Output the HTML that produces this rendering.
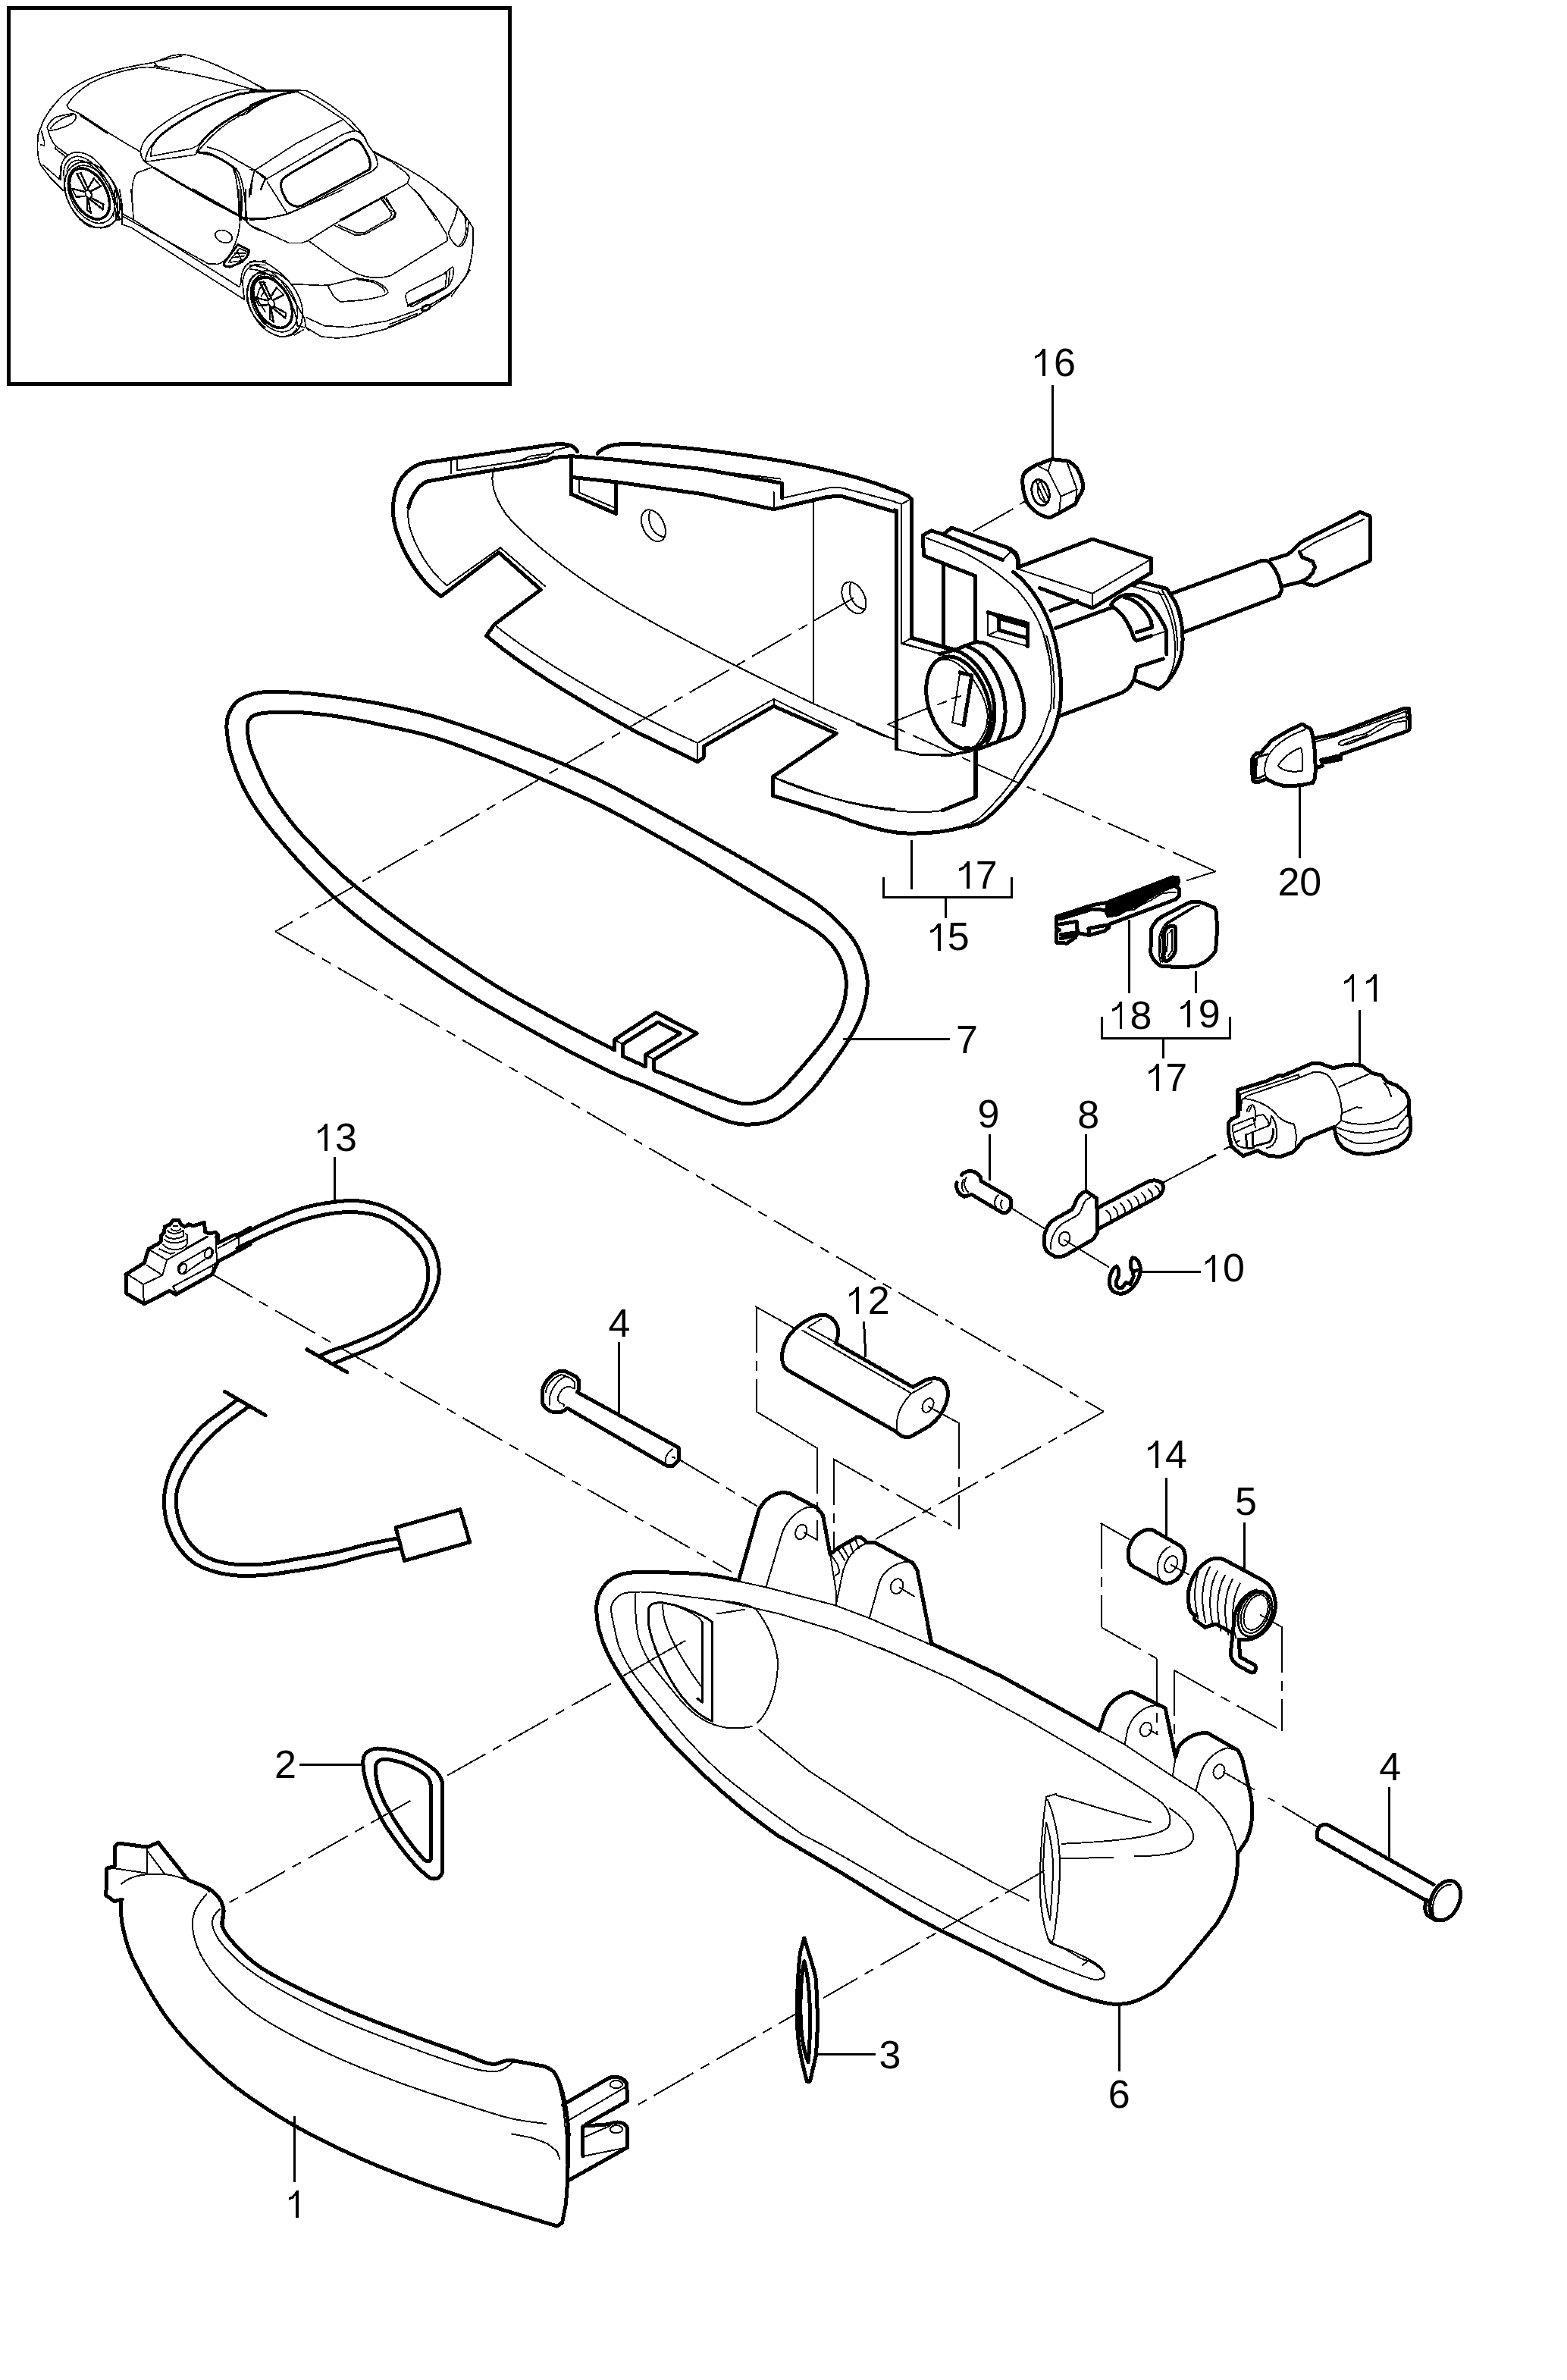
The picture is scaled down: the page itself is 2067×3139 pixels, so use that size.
<!DOCTYPE html>
<html><head><meta charset="utf-8">
<style>
html,body{margin:0;padding:0;background:#fff;}
body{width:2067px;height:3139px;overflow:hidden;font-family:"Liberation Sans",sans-serif;}
svg{position:absolute;left:0;top:0;display:block;shape-rendering:crispEdges}
.k,.m,.n,.d,.w{fill:none;stroke:#000;stroke-linecap:round;stroke-linejoin:round;vector-effect:non-scaling-stroke}
.k{stroke-width:5}
.m{stroke-width:3}
.n{stroke-width:2}
.l{fill:none;stroke:#000;stroke-width:3;vector-effect:non-scaling-stroke}
.w{stroke-width:5;fill:#fff}
.d{stroke-width:2;stroke-dasharray:60 11 13 11;stroke-linecap:butt}
.c path,.c ellipse{fill:none;stroke:#000;stroke-width:8.3;stroke-linecap:round;stroke-linejoin:round}
.c .b{stroke-width:15}
text{font-family:"Liberation Sans",sans-serif;fill:#000}
</style></head><body>
<svg width="2067" height="3139" viewBox="0 0 2067 3139">
<rect x="0" y="0" width="2067" height="3139" fill="#fff"/>
<!-- FRAME -->
<rect x="11.5" y="10.5" width="661" height="496" fill="none" stroke="#000" stroke-width="5"/>
<!-- CAR-A -->
<g class="c" transform="translate(30,50) scale(0.2042)">
<path d="M95,690 C95,640 105,600 120,570 C140,510 190,440 260,370 C330,310 420,265 520,230 C620,200 740,175 850,158 L960,115 L1030,105 C1100,115 1180,145 1260,180 L1400,245 L1567,330"/>
<path d="M285,435 C310,395 360,340 440,290 C520,250 620,215 740,195 C790,185 830,188 870,195 L1100,235 L1300,280 L1460,325 L1567,345"/>
<path d="M850,158 L870,185 M850,180 L945,195 M870,150 L1030,115"/>
<path d="M285,435 L300,460 L370,490 L550,610 L680,690 L760,735"/>
<path class="b" d="M375,500 L545,612"/>
<path d="M160,590 C150,570 190,520 225,508 L320,488 C345,490 350,510 335,535 C310,565 240,590 175,600 Z"/>
<path d="M180,585 C200,550 260,510 325,495"/>
<path d="M120,570 L100,620 L95,690 C95,740 100,790 115,820 L180,905 L260,985"/>
<path d="M120,600 L140,670 L140,695 L115,690"/>
<path d="M165,600 C175,640 195,680 215,700 L290,755 M215,700 L210,715 L280,770"/>
<path d="M130,820 L240,915 L245,830"/>
<path d="M245,915 L250,830 C255,790 280,755 330,740 C380,735 430,750 470,790 C520,840 570,900 600,970 C625,1030 640,1100 645,1175"/>
<path d="M270,985 L265,860 C270,810 300,770 350,765 C420,765 480,830 530,900 C580,980 610,1080 625,1175"/>
<path d="M285,860 C290,820 320,790 360,790 C440,790 520,890 570,1000 C595,1070 605,1130 600,1175"/>
<path d="M760,735 C765,690 790,650 830,615 C900,555 1000,490 1100,440 C1200,390 1300,355 1400,335 L1480,335 L1567,345"/>
<path d="M760,735 C765,770 775,790 790,800 L840,835"/>
<path class="b" d="M835,700 C860,650 920,600 1000,550 C1100,485 1250,405 1400,362 L1567,338"/>
<path d="M825,765 L835,700 M825,765 L1090,715 L1140,690 M790,800 L1115,755 L1140,700 M790,800 C795,760 810,720 835,690"/>
<path class="b" d="M1140,690 C1180,640 1230,590 1300,545 C1400,480 1480,440 1567,395"/>
<path d="M1115,755 C1180,670 1250,600 1330,545 L1567,405"/>
<path d="M1390,500 C1400,480 1440,460 1470,462 C1470,480 1430,505 1390,500 Z"/>
<path d="M840,835 L740,870 C720,890 712,920 708,960 L705,1010 L715,1175"/>
<path class="b" d="M850,840 L1000,930 L1200,1045 L1400,1150 L1440,1175"/>
<path class="b" d="M1130,738 L1200,745 C1260,770 1330,810 1380,850"/>
<path d="M1380,850 C1410,880 1425,950 1435,1050 L1450,1175"/>
<path d="M1195,705 L1290,735 L1400,800 L1500,855 L1567,900 M1500,855 C1480,900 1470,960 1465,1025 M1567,905 L1540,980"/>
<path d="M1140,745 C1220,750 1300,785 1355,835 C1395,875 1410,960 1418,1060 L1410,1175 M1360,850 C1385,900 1395,1000 1398,1175"/>
</g>
<!-- WHEELS -->
<defs><g id="wh" fill="none" stroke="#000" stroke-linecap="round">
<ellipse rx="268" ry="440" stroke-width="44" transform="rotate(-30)"/>
<ellipse cx="45" cy="20" rx="390" ry="560" stroke-width="22" transform="rotate(-30 45 20)"/>
<ellipse cx="28" cy="10" rx="325" ry="495" stroke-width="20" transform="rotate(-30 28 10)"/>
<path stroke-width="30" d="M-60,-50 L-200,-320 M-20,-70 L-140,-330 M-10,-110 L70,-240 M20,-40 L180,-120 M20,60 L220,170 M10,90 L210,250 M-20,90 L20,310 M-40,80 L-40,260 M-70,-30 L-280,-80 M-80,40 L-210,50"/>
<path stroke-width="20" d="M-200,-320 L-140,-330 M70,-240 L180,-120 M220,170 L210,250 M20,310 L-40,260 M-280,-80 L-210,50"/>
<ellipse cx="-15" cy="10" rx="45" ry="70" stroke-width="24" transform="rotate(-30 -15 10)"/>
</g></defs>
<use href="#wh" transform="translate(118.1,255.5) scale(0.08296)"/>
<use href="#wh" transform="translate(359.1,398.9) scale(0.08296)"/>
<!-- CAR-B -->
<g class="c" transform="translate(330,50) scale(0.2042)">
<path d="M0,280 L95,335 L190,338 L360,340 L400,360 L520,435 L640,525 L700,590 L740,640 L760,690 L795,735"/>
<path class="b" d="M0,345 L300,340 M0,437 C100,390 200,360 305,345"/>
<path d="M0,470 C100,400 200,360 305,347"/>
<path d="M300,345 L430,412 L600,525 L680,600"/>
<path d="M595,530 L300,680 L30,855 M680,600 C640,605 600,620 560,645 L100,915"/>
<path class="b" d="M660,655 C700,655 720,680 740,720 C770,770 785,810 770,850 L330,1085 C290,1095 250,1080 230,1040 C200,990 190,950 205,920 C220,900 240,890 260,875 L600,680 C620,665 640,655 660,655 Z"/>
<path d="M680,600 C720,610 740,640 760,690 C800,740 830,780 820,830 L790,860 L350,1090 L240,1135"/>
<path d="M30,855 L100,915 M110,930 L240,1135 M100,915 C80,940 70,960 68,980 M30,855 C15,880 10,950 5,1010 M0,850 L30,855"/>
<path d="M795,735 L900,790 L1005,870 L1030,900 L1015,940 L860,1025 L580,1175 M240,1135 L100,1170 L0,1175"/>
<path class="b" d="M795,735 L900,790"/>
<path d="M795,735 C900,780 1050,860 1150,930 C1250,1000 1310,1060 1340,1090 L1400,1175"/>
<path d="M1015,940 L1100,1020 L1200,1175 M1340,1090 L1320,1175"/>
<path d="M840,1035 L900,1110 L940,1130 L935,1160 L915,1175 M860,1025 L940,1130 M600,1175 L840,1040"/>
</g>
<!-- CAR-C -->
<g class="c" transform="translate(30,250) scale(0.2042)">
<path d="M270,0 C290,90 340,190 430,238 C500,255 560,240 600,200 L640,190 M590,0 C600,60 600,120 585,170 M600,0 C615,60 615,140 600,195 M625,0 L640,90 L645,155"/>
<path d="M640,155 L640,225 L700,245 L1430,710 M640,155 L700,185 L1400,630 L1410,600 M650,175 L1200,480 M700,0 L715,180"/>
<path d="M1395,0 L1405,180 C1405,260 1380,340 1350,400 C1320,450 1290,475 1260,482 L1200,480"/>
<path class="b" d="M1100,0 L1400,170"/>
<path d="M1400,170 L1440,185 L1567,192 M1440,0 L1440,200 C1470,240 1520,265 1567,275 M1410,0 L1412,175 M1465,0 L1462,50"/>
<ellipse cx="1298" cy="303" rx="57" ry="38" transform="rotate(20 1298 303)"/>
<path class="b" d="M1300,475 L1390,355 L1460,390 C1465,420 1440,450 1400,475 L1340,500 C1310,500 1295,490 1300,475 Z"/>
<path d="M1330,470 L1400,380 L1445,400 M1350,440 L1430,430 M1370,410 L1445,410 M1340,470 L1410,460 M1385,395 L1420,470"/>
<path d="M1410,600 C1410,540 1430,490 1470,470 L1567,460 M1430,700 L1420,600 C1425,540 1450,500 1500,485 L1567,488 M1450,720 C1440,640 1460,560 1520,540 L1567,538 M1450,720 C1470,790 1510,850 1567,890"/>
<path class="b" d="M1567,570 C1520,570 1480,600 1490,680 C1500,760 1530,830 1567,860"/>
<path d="M1567,600 L1530,640 L1510,700 L1567,790 M1567,650 L1540,690"/>
</g>
<!-- CAR-D -->
<g class="c" transform="translate(330,250) scale(0.2042)">
<path d="M0,465 C50,455 110,470 160,510 C200,540 230,570 250,590 M0,490 C80,490 150,530 200,590 C260,670 310,760 350,830 M0,515 C70,515 140,550 190,610 C260,700 300,800 305,880 L350,890"/>
<path d="M285,940 L345,905 M190,950 C240,950 280,940 300,900"/>
<path d="M0,230 L250,345 L330,345 L375,330 M0,185 C80,190 160,180 240,160 L600,0"/>
<path d="M375,330 L560,465 C620,510 680,545 740,560 C800,575 860,570 910,555 L1275,330 L1270,290 L1200,175 L1060,0 M375,330 L540,225 L860,50 L940,0"/>
<path d="M540,230 L680,295 L740,290 L900,200 C930,180 940,160 930,140 L880,55 M570,230 L690,280 L740,278 L900,185 L915,160 L850,50"/>
<path d="M1340,110 C1335,160 1310,220 1280,280 C1290,320 1320,360 1350,370 C1380,365 1400,320 1405,270 L1410,215 M1390,180 L1395,260 C1390,310 1370,350 1350,360"/>
<path d="M1210,0 C1280,40 1380,140 1440,250 L1440,350 C1435,430 1420,500 1395,560 C1370,600 1330,640 1290,670 L1180,735 L1050,790 L880,850 L640,890 L480,880 L360,825"/>
<path d="M360,890 L460,950 L560,960 L700,945 L880,900 L1080,815 L1290,680 M350,830 L360,890 L380,910 M1300,690 L1420,520"/>
<path d="M500,620 L690,572 L800,590 C850,610 890,640 890,665 C880,685 820,700 720,715 L580,725 L540,690 Z M690,580 L800,600 C840,620 870,645 870,660"/>
<path d="M265,610 L470,620 L500,615"/>
<path class="b" d="M1020,750 L1250,640"/>
<path d="M1005,700 C1000,680 1010,665 1030,655 L1250,545 L1305,500 L1315,510 L1310,560 C1300,600 1280,630 1250,645 L1050,755 L1020,750 Z M1250,545 L1270,540 L1260,630 M1290,520 L1280,610"/>
<ellipse class="b" cx="1135" cy="765" rx="30" ry="15" transform="rotate(-25 1135 765)"/>
<path d="M890,890 L1075,815 L1080,800 L900,870 M1180,735 L1300,670"/>
</g>
<!-- T1 housing left (origin 480,540 z 2.2386) -->
<g transform="translate(480,540) scale(0.44671)" stroke-linecap="round" stroke-linejoin="round" fill="none" stroke="#000">
<g stroke-width="11.2">
<path d="M630,125 C625,108 605,100 565,103 L440,120 L300,140 L180,157 C140,165 110,195 95,235 C80,285 85,330 100,370 C120,430 160,490 200,530 L228,552 L398,422 L522,532 L385,635 L362,668 C450,745 600,840 800,950 L985,1040 L1003,1028 L1003,995 L1210,876 L1395,957 L1207,1085 L1207,1140 L1400,1200"/>
<path d="M612,138 L560,142 L540,152 L470,166 L380,180 L280,196 L185,213 C160,225 140,255 132,290"/>
<path d="M690,130 C710,105 750,100 800,102 C950,110 1100,130 1250,155 C1400,183 1500,210 1567,240"/>
<path d="M612,250 L612,138 L740,148 L1000,176 L1235,218 L1235,262"/>
<path d="M612,200 L750,215 L1000,250 L1210,295 L1370,258 L1410,256 L1567,302"/>
<path d="M612,250 L745,308 L745,215"/>
</g>
<g stroke-width="4.5">
<path d="M132,290 C125,330 140,370 160,410 C185,460 215,495 245,520 L403,408 L535,522"/>
<path d="M258,150 L258,188 M275,148 L275,180 L460,152 L540,138 L565,120 L615,108 M460,152 L490,138 L560,128"/>
<path d="M385,172 C370,210 385,260 420,310 C480,380 600,480 750,570 C900,660 1100,760 1330,870 L1567,975"/>
<path d="M385,635 C500,730 750,880 985,985 L985,1040 M985,985 L1210,855 L1210,878 M1210,855 L1395,945"/>
<path d="M640,135 L1230,205 M1210,245 L1210,295 M635,210 L635,245 L740,290"/>
<path d="M1328,270 L1328,870 M1235,262 L1380,230 L1415,232 L1567,272"/>
<ellipse cx="855" cy="343" rx="31" ry="50" transform="rotate(-27 855 343)"/>
<path d="M845,300 C835,330 850,370 888,378"/>
<ellipse cx="1447" cy="556" rx="31" ry="50" transform="rotate(-27 1447 556)"/>
<path d="M1437,513 C1427,543 1442,583 1480,591"/>
<path d="M1207,1085 C1300,1130 1450,1170 1567,1180"/>
</g>
</g>
<!-- T3 origin 1090,600 z 4.477 -->
<g transform="translate(1090,600) scale(0.22336)">
<path class="k" d="M403,207 L480,240 L505,265 L505,1080 L700,1135 L760,1150"/>
<path class="n" d="M403,278 L445,290 L490,265 M445,290 L445,1115 L495,1085 M445,1115 L680,1175"/>
<path class="k" d="M403,326 L415,330 L415,1736"/>
<path class="k" d="M570,475 L575,595 L880,715 L880,1106"/>
<path class="k" d="M570,475 L620,447 L690,470 L740,430 L1085,553 L1120,580 L1135,620 L1130,670"/>
<path class="k" d="M690,470 L1040,620 M690,650 L690,1136"/>
<path class="n" d="M1040,620 L1085,575 M590,490 L800,570 C900,620 1000,680 1130,800 C1200,880 1250,960 1280,1050 L1320,1209"/>
<path class="k" d="M955,930 L1190,995 L1190,1130"/>
<path class="n" d="M1190,1130 L955,1065 L955,930 M955,1065 L1020,1035 M955,930 L1020,965"/>
<path class="k" d="M1185,1012 L1020,965 L1020,1035 L1180,1080"/>
<!-- nut -->
<path class="k" d="M1160,130 C1165,100 1200,80 1240,60 L1330,25 L1420,35 C1470,50 1500,100 1515,170 C1520,200 1510,220 1495,240 L1470,290 L1380,340 L1320,370 C1270,365 1220,330 1185,280 C1165,230 1155,170 1160,130 Z"/>
<path class="n" d="M1250,65 L1310,95 L1330,30 M1310,95 L1385,245 L1375,335 M1385,245 L1475,205 M1420,40 L1480,205 L1470,290 M1240,160 L1300,290 M1262,150 L1318,270"/>
<ellipse class="m" cx="1265" cy="222" rx="50" ry="78" transform="rotate(-15 1265 222)"/>
<ellipse class="n" cx="1282" cy="218" rx="32" ry="62" transform="rotate(-15 1282 218)"/>
<path class="n" d="M1180,270 L1145,290 M1100,320 L870,450"/>
</g>
<!-- T4 origin 1330,660 z 3.134 -->
<g transform="translate(1330,660) scale(0.31908)">
<path class="k" d="M45,275 L348,160 L592,240 L592,298 L348,445 L130,362"/>
<path class="n" d="M45,285 L348,385 L590,243 M348,385 L348,445"/>
<path class="k" d="M0,200 C30,215 45,240 40,275 M20,295 C80,340 140,420 175,520 C210,620 225,740 215,850"/>
<path class="k" d="M215.0,850.0 C212.5,860.8 206.2,893.7 200.0,915.0 C193.8,936.3 187.5,958.2 178.0,978.0 C168.5,997.8 156.8,1013.3 143.0,1034.0 C129.2,1054.7 111.0,1079.3 95.0,1102.0 C79.0,1124.7 62.3,1150.0 47.0,1170.0 C31.7,1190.0 17.7,1205.3 3.0,1222.0 C-11.7,1238.7 -26.3,1255.3 -41.0,1270.0 C-55.7,1284.7 -71.7,1299.3 -85.0,1310.0 C-98.3,1320.7 -107.7,1327.7 -121.0,1334.0 C-134.3,1340.3 -157.7,1345.7 -165.0,1348.0"/>
<path class="n" d="M144,547 C172,620 186,740 176,860 M158,560 C183,630 197,745 187,860"/>
<path class="n" d="M176.0,860.0 C174.7,863.3 174.7,861.5 168.0,880.0 C161.3,898.5 147.5,945.3 136.0,971.0 C124.5,996.7 112.5,1013.5 99.0,1034.0 C85.5,1054.5 69.0,1072.7 55.0,1094.0 C41.0,1115.3 28.3,1142.0 15.0,1162.0 C1.7,1182.0 -11.7,1198.0 -25.0,1214.0 C-38.3,1230.0 -51.7,1244.0 -65.0,1258.0 C-78.3,1272.0 -94.3,1287.7 -105.0,1298.0 C-115.7,1308.3 -121.0,1314.3 -129.0,1320.0 C-137.0,1325.7 -149.0,1330.0 -153.0,1332.0"/>
<path class="k" d="M175,455 L285,415 M195,528 L435,440 M215,890 L470,795 C500,780 520,750 525,720 L530,690 L640,655"/>
<path class="k" d="M525,745 L620,780 C660,760 700,700 715,640 C730,560 715,470 690,420 L655,365 L540,335 L520,350"/>
<path class="k" d="M425,430 C445,400 480,385 515,390 C570,400 620,460 655,540 L655,635"/>
<path class="k" d="M430,440 C470,460 500,510 520,570 L530,580 L590,560 M530,545 L595,525 L590,500 C570,450 530,410 480,400"/>
<path class="n" d="M620,375 C660,440 690,520 690,620 C690,680 670,730 640,765 M635,370 C680,440 700,530 700,620 M530,580 L655,540 M515,355 L640,390"/>
<path class="k" d="M675,385 L1045,250 C1060,245 1075,250 1085,262 C1110,290 1125,330 1130,370 L1120,395 L725,545"/>
<path class="k" d="M1085,245 L1150,225 C1175,215 1185,190 1215,170 L1455,48 L1495,65 L1495,250 L1275,350 C1250,355 1230,345 1215,335 L1135,355"/>
<path class="n" d="M1205,213 L1265,175 L1470,78"/>
<path class="k" d="M1205,213 L1215,235 L1258,252 L1268,275 L1258,300 L1240,320 L1210,337"/>
</g>
<!-- T5 origin 1130,780 z 4.477 -->
<g transform="translate(1130,780) scale(0.22336)">
<path class="n" d="M235,930 L380,968 L560,970 L680,945 M0,785 L150,850 L230,875 M270,305 L560,390"/>
<path class="k" d="M325,275 L580,350 M700,945 L700,1209"/>
<ellipse class="w" cx="600" cy="658" rx="175" ry="282" transform="rotate(-19 600 658)"/>
<path class="n" d="M480,410 C520,395 560,400 600,430 C680,490 750,600 770,700 C780,770 770,830 700,915"/>
<path class="k" d="M580,345 C680,380 760,480 800,600 C830,720 810,830 770,890 M640,320 C740,350 820,450 860,580 C890,700 880,800 840,870"/>
<path class="k" d="M490,370 L580,345 L700,300 C790,290 880,380 940,500 C990,620 1010,740 960,820 C940,850 910,865 880,870 L720,930 L640,925"/>
<path class="n" d="M610,478 L565,775 L632,792"/>
<path class="k" d="M610,478 L680,497 L632,792"/>
<path class="n" d="M185,785 L430,685 M480,668 L530,650 M565,632 L615,618"/>
</g>
<!-- T7 origin 780,860 z 2.849 -->
<g transform="translate(780,860) scale(0.35100)">
<path class="k" d="M927,616 C1000,645 1080,670 1160,680 C1260,685 1350,675 1420,650"/>
<path class="k" d="M1445,370 L1445,545 L1320,595"/>
<path class="n" d="M1320,595 C1200,615 1000,585 850,530 L690,472"/>
<path class="n" d="M1145,365 L1240,385 L1350,385 L1420,370"/>
</g>
<!-- T6 origin 1130,900 z 2.2386 -->
<g transform="translate(1130,900) scale(0.44671)">
<path class="l" d="M163,465 L163,612 M80,575 L80,635 L457,635 L457,575 M262,635 L262,697"/>
<path class="l" d="M725,988 L725,1050 L1103,1050 L1103,988 M905,1050 L905,1110"/>
<path class="l" d="M805,700 L805,918 M1002,853 L1002,918 M1308,310 L1308,520 M-40,1053 L275,1053 M1485,968 L1485,1130"/>
</g>
<!-- T8 gasket origin 280,880 z 1.7411 -->
<g transform="translate(280,880) scale(0.57435)">
<path class="k" d="M33.0,133.0 C33.5,124.2 34.7,115.3 38.0,107.0 C41.3,98.7 46.5,89.7 53.0,83.0 C59.5,76.3 67.5,71.2 77.0,67.0 C86.5,62.8 96.7,59.7 110.0,58.0 C123.3,56.3 139.2,56.7 157.0,57.0 C174.8,57.3 193.2,57.8 217.0,60.0 C240.8,62.2 269.5,65.5 300.0,70.0 C330.5,74.5 363.0,79.2 400.0,87.0 C437.0,94.8 472.0,101.5 522.0,117.0 C572.0,132.5 637.0,155.3 700.0,180.0 C763.0,204.7 819.7,225.2 900.0,265.0 C980.3,304.8 1112.8,380.3 1182.0,419.0 C1251.2,457.7 1281.7,477.0 1315.0,497.0 C1348.3,517.0 1362.7,525.3 1382.0,539.0 C1401.3,552.7 1416.2,564.8 1431.0,579.0 C1445.8,593.2 1460.7,609.2 1471.0,624.0 C1481.3,638.8 1487.5,653.2 1493.0,668.0 C1498.5,682.8 1502.5,698.2 1504.0,713.0 C1505.5,727.8 1504.7,741.5 1502.0,757.0 C1499.3,772.5 1494.7,789.7 1488.0,806.0 C1481.3,822.3 1472.3,838.0 1462.0,855.0 C1451.7,872.0 1439.3,889.5 1426.0,908.0 C1412.7,926.5 1396.8,949.0 1382.0,966.0 C1367.2,983.0 1351.8,997.8 1337.0,1010.0 C1322.2,1022.2 1310.0,1032.3 1293.0,1039.0 C1276.0,1045.7 1253.5,1049.5 1235.0,1050.0 C1216.5,1050.5 1205.7,1049.3 1182.0,1042.0 C1158.3,1034.7 1126.3,1020.2 1093.0,1006.0 C1059.7,991.8 1009.0,968.5 982.0,957.0 C955.0,945.5 958.0,949.5 931.0,937.0 C904.0,924.5 857.0,901.3 820.0,882.0 C783.0,862.7 746.0,841.8 709.0,821.0 C672.0,800.2 635.0,779.7 598.0,757.0 C561.0,734.3 524.0,710.0 487.0,685.0 C450.0,660.0 410.3,633.0 376.0,607.0 C341.7,581.0 308.8,554.0 281.0,529.0 C253.2,504.0 230.8,480.2 209.0,457.0 C187.2,433.8 166.0,409.0 150.0,390.0 C134.0,371.0 124.2,358.5 113.0,343.0 C101.8,327.5 91.3,311.3 83.0,297.0 C74.7,282.7 68.5,269.3 63.0,257.0 C57.5,244.7 53.8,234.2 50.0,223.0 C46.2,211.8 42.5,200.5 40.0,190.0 C37.5,179.5 36.2,169.5 35.0,160.0 C33.8,150.5 32.5,141.8 33.0,133.0 Z"/>
<path class="k" d="M924.0,879.0 C911.3,872.5 874.5,853.8 848.0,840.0 C821.5,826.2 795.5,812.7 765.0,796.0 C734.5,779.3 697.5,759.5 665.0,740.0 C632.5,720.5 599.7,698.5 570.0,679.0 C540.3,659.5 514.8,642.5 487.0,623.0 C459.2,603.5 430.8,583.2 403.0,562.0 C375.2,540.8 340.0,512.5 320.0,496.0 C300.0,479.5 297.5,476.8 283.0,463.0 C268.5,449.2 248.0,428.5 233.0,413.0 C218.0,397.5 205.2,384.3 193.0,370.0 C180.8,355.7 170.0,340.8 160.0,327.0 C150.0,313.2 140.8,300.3 133.0,287.0 C125.2,273.7 118.5,258.7 113.0,247.0 C107.5,235.3 104.2,227.0 100.0,217.0 C95.8,207.0 91.0,197.0 88.0,187.0 C85.0,177.0 83.2,166.0 82.0,157.0 C80.8,148.0 80.5,139.2 81.0,133.0 C81.5,126.8 82.3,123.8 85.0,120.0 C87.7,116.2 91.2,112.5 97.0,110.0 C102.8,107.5 109.5,106.2 120.0,105.0 C130.5,103.8 143.8,103.0 160.0,103.0 C176.2,103.0 193.7,103.0 217.0,105.0 C240.3,107.0 269.5,110.0 300.0,115.0 C330.5,120.0 363.0,126.7 400.0,135.0 C437.0,143.3 472.0,148.7 522.0,165.0 C572.0,181.3 637.0,206.8 700.0,233.0 C763.0,259.2 834.5,289.5 900.0,322.0 C965.5,354.5 1038.7,397.0 1093.0,428.0 C1147.3,459.0 1189.0,485.7 1226.0,508.0 C1263.0,530.3 1289.0,546.3 1315.0,562.0 C1341.0,577.7 1364.2,589.5 1382.0,602.0 C1399.8,614.5 1411.3,624.5 1422.0,637.0 C1432.7,649.5 1440.3,662.8 1446.0,677.0 C1451.7,691.2 1455.2,706.5 1456.0,722.0 C1456.8,737.5 1454.8,754.5 1451.0,770.0 C1447.2,785.5 1440.8,800.2 1433.0,815.0 C1425.2,829.8 1416.3,842.7 1404.0,859.0 C1391.7,875.3 1373.8,895.8 1359.0,913.0 C1344.2,930.2 1328.3,949.2 1315.0,962.0 C1301.7,974.8 1292.3,983.3 1279.0,990.0 C1265.7,996.7 1248.3,1000.7 1235.0,1002.0 C1221.7,1003.3 1215.3,1002.5 1199.0,998.0 C1182.7,993.5 1162.2,984.8 1137.0,975.0 C1111.8,965.2 1068.3,947.2 1048.0,939.0 C1027.7,930.8 1020.5,928.2 1015.0,926.0"/>
<path class="k" d="M924,879 L924,855 L1019,793 L1113,841 L1015,901 L1015,926 M942,866 L942,893 L995,917 L995,890 L1075,841 L1024,815 Z"/>
<path class="n" d="M924,855 L942,866 M995,890 L1015,901"/>
</g>
<!-- T10 part 11 origin 1590,1380 z 5.2233 -->
<g transform="translate(1590,1380) scale(0.19145)">
<path class="k" d="M220,310 L225,300 L290,280 L420,240 L510,200 L530,205 L740,115 L790,118 L880,150 L960,130 L1020,125 L1080,135 L1150,185 L1215,200 L1250,245 L1320,270 L1380,320 L1400,360 L1400,470 L1415,500 L1410,600 L1390,640 L1330,690 L1240,725 L1120,745 L1020,735 L950,700 L910,650 L895,600 L890,555 L850,570 L680,640 L640,690 L600,730 L520,760 L440,755 L380,730 L360,718 L260,755 L240,740 L180,690 L160,600 L158,530 L180,500 L220,485 Z"/>
<path class="n" d="M245,440 L250,370 L290,340 L640,220 L740,180 L790,178 L840,195 M235,480 L240,330 L280,315 L640,195 L650,215 M840,195 C900,260 930,340 940,440 L935,510 L890,555 M920,280 L1130,190 M945,460 L1040,420 L1075,422 M1230,250 L1260,290 L1280,345"/>
<path class="n" d="M935,510 C1000,540 1100,545 1200,525 C1300,500 1370,450 1395,400 M910,560 C980,590 1050,600 1100,598 L1270,570 L1320,565 L1345,525 L1395,470 M915,600 C960,640 1020,665 1050,670 L1180,665 L1320,620 L1360,600 L1395,560"/>
<path class="n" d="M265,360 C350,370 420,400 470,450 C510,500 560,530 610,535 C625,580 630,630 620,690"/>
<path class="n" d="M285,450 C290,420 310,400 330,405 C345,430 350,470 345,510 M300,450 L320,410 M190,545 L330,490 L345,560 M205,590 L340,530 M280,610 L440,545 C455,510 450,495 455,480 C480,510 500,570 490,630 C480,670 450,700 420,700 M350,480 L400,470 L430,510 L440,545 M190,545 C185,600 200,660 230,690 L270,700 M210,660 L235,650"/>
<path class="m" d="M280,610 L285,700 L330,700 L325,600 M330,690 L440,660 C465,640 470,600 465,570"/>
<path class="n" d="M15,770 L70,745 M130,710 L180,685"/>
</g>
<!-- T11 parts 8,9,10 origin 1240,1520 z 4.897 -->
<g transform="translate(1240,1520) scale(0.20421)">
<path class="k" d="M140,145 C170,110 230,110 262,160 L265,185 L445,288 C465,305 465,345 445,375 C430,390 410,392 395,385 L205,272 L155,285 C115,270 100,230 108,195"/>
<path class="n" d="M170,160 C150,190 155,230 180,255 M150,175 C140,200 140,230 150,250 M375,275 C350,300 345,335 365,360 M400,310 C390,325 390,345 400,360"/>
<path class="k" d="M690,490 C700,460 730,435 760,420 L850,370 C870,350 870,320 890,290 C905,270 925,255 945,252 L1010,295 L1015,385 L1015,520 L990,560 L800,670 L745,675 L690,640 C665,600 665,540 690,490 Z"/>
<path class="n" d="M715,625 C710,560 740,500 790,460 L880,410 C920,390 915,340 940,310 L975,285 M1015,385 L1020,480"/>
<ellipse class="n" cx="803" cy="557" rx="35" ry="45" transform="rotate(15 803 557)"/>
<path class="k" d="M1015,360 L1340,190 C1370,175 1410,178 1435,200 C1450,225 1440,260 1410,285 L1020,495"/>
<path class="n" d="M1075,375 c25,20 35,45 25,75 M1120,352 c25,20 35,45 25,75 M1165,329 c25,20 35,45 25,75 M1210,306 c25,20 35,45 25,75 M1255,283 c25,20 35,45 25,75 M1300,260 c25,20 35,45 25,75 M1345,237 c25,20 35,45 25,75 M1390,214 c25,20 35,45 25,75"/>
<path class="n" d="M455,355 L680,495 M803,565 L1090,740 M1440,195 L1567,128 L1780,17"/>
<path class="k" d="M1245,680 C1275,680 1295,720 1295,760 C1290,820 1250,880 1200,905 C1150,925 1100,900 1095,850 C1090,800 1110,750 1140,735"/>
<path class="k" d="M1245,680 C1225,700 1225,740 1245,770 L1275,760 M1140,735 C1160,750 1160,790 1140,830 C1130,860 1150,885 1180,870 L1200,840 L1230,850 L1250,800 L1245,770"/>
</g>
<!-- T12 cable origin 120,1440 z 2.2386 -->
<g transform="translate(120,1440) scale(0.44671)">
<path class="k" d="M432.0,428.0 C446.7,420.8 488.7,398.8 520.0,385.0 C551.3,371.2 586.7,355.0 620.0,345.0 C653.3,335.0 690.0,328.7 720.0,325.0 C750.0,321.3 773.3,319.7 800.0,323.0 C826.7,326.3 855.0,333.8 880.0,345.0 C905.0,356.2 930.0,374.2 950.0,390.0 C970.0,405.8 987.5,421.7 1000.0,440.0 C1012.5,458.3 1020.8,480.0 1025.0,500.0 C1029.2,520.0 1029.2,540.0 1025.0,560.0 C1020.8,580.0 1009.5,603.2 1000.0,620.0 C990.5,636.8 980.5,648.0 968.0,661.0 C955.5,674.0 941.7,685.2 925.0,698.0 C908.3,710.8 887.0,727.0 868.0,738.0 C849.0,749.0 827.7,756.8 811.0,764.0 C794.3,771.2 783.3,774.8 768.0,781.0 C752.7,787.2 727.2,797.7 719.0,801.0"/>
<path class="k" d="M432.0,462.0 C446.7,455.0 488.7,433.7 520.0,420.0 C551.3,406.3 586.7,390.3 620.0,380.0 C653.3,369.7 690.0,361.8 720.0,358.0 C750.0,354.2 775.0,354.2 800.0,357.0 C825.0,359.8 848.3,365.3 870.0,375.0 C891.7,384.7 912.5,400.0 930.0,415.0 C947.5,430.0 964.2,447.5 975.0,465.0 C985.8,482.5 992.5,500.8 995.0,520.0 C997.5,539.2 995.8,560.0 990.0,580.0 C984.2,600.0 970.8,625.3 960.0,640.0 C949.2,654.7 939.0,658.3 925.0,668.0 C911.0,677.7 895.0,688.2 876.0,698.0 C857.0,707.8 831.5,718.3 811.0,727.0 C790.5,735.7 769.7,743.8 753.0,750.0 C736.3,756.2 723.3,759.3 711.0,764.0 C698.7,768.7 684.3,775.7 679.0,778.0"/>
<path class="k" d="M638,761 L756,828 M395,885 L515,955"/>
</g>
<!-- T13 switch origin 150,1590 z 8.7056 -->
<g transform="translate(150,1590) scale(0.11487)">
<path class="k" d="M140,790 L350,660 L400,500 L540,420 L545,340 L580,310 L585,245 L650,215 L680,170 L750,170 L770,215 L815,245 L860,215 L910,235 L1040,195 L1050,300 L1090,320 L1170,310 L1200,335 L1200,430 L1380,340 L1430,335 L1567,255"/>
<path class="k" d="M140,790 L140,1005 L350,1130 L640,980 L715,1020 L1130,790 L1200,640 L1430,520 L1567,445"/>
<path class="n" d="M175,800 L340,905 L345,1100 M340,905 L560,800 L380,685 M560,800 L610,625 L430,520 M610,625 L1080,360 M830,490 L1070,355 M1170,350 L1185,650 L1130,690 L680,930 L715,990 M1130,690 L1160,770"/>
<path class="n" d="M820,640 L1080,490 C1110,470 1150,500 1140,550 C1130,600 1090,615 1060,610 L860,745 C830,790 760,800 740,750 C725,700 770,650 820,640"/>
<ellipse class="n" cx="795" cy="725" rx="38" ry="60" transform="rotate(25 795 725)"/>
<ellipse class="n" cx="1085" cy="548" rx="38" ry="60" transform="rotate(25 1085 548)"/>
<path class="n" d="M570,450 C600,500 700,520 790,490 L840,450 L845,340 L825,325 M585,390 C620,440 760,440 830,390 M600,350 C640,390 740,390 800,350 L800,290 M620,290 C650,330 740,330 790,290 M660,270 C690,300 740,300 770,270 M690,235 L730,235 M525,500 L650,555 L700,540"/>
<path class="n" d="M1200,490 L1400,380 M1430,335 L1440,480"/>
</g>
<!-- T14 parts 4,12 origin 680,1660 z 1.95875 -->
<g transform="translate(680,1660) scale(0.51053)">
<path class="n" d="M622,395 L780,490 M822,518 L870,545"/>
</g>
<!-- T15 parts 14,5 origin 1400,1880 z 2.7982 -->
<g transform="translate(1400,1880) scale(0.35737)">
<path class="k" d="M250,500 C240,460 255,420 285,400 C300,388 320,382 335,385 L440,445 C460,460 462,500 450,535 C435,570 405,590 375,580 L265,520 C255,515 252,508 250,500 Z"/>
<path class="n" d="M400,448 C370,460 350,500 355,540 C360,570 375,582 385,582 M405,515 L470,550"/>
<ellipse class="n" cx="405" cy="512" rx="22" ry="32" transform="rotate(25 405 512)"/>
<path class="n" d="M147,362 L250,420 M735,700 L815,745"/>
<path class="k" d="M470,655 C460,600 490,530 540,500 C560,488 585,488 600,495 L740,570 C780,590 800,640 785,700 C770,750 730,785 690,790 L665,790"/>
<path class="k" d="M470,655 C470,680 480,695 495,700 L490,715 L530,745 L560,735 L575,735 L630,765"/>
<path class="k" d="M640,700 L625,840 C625,865 640,880 660,890 L700,912 C715,915 722,900 715,885 L660,855 L655,790 M640,700 C650,660 680,620 720,610"/>
<path class="n" d="M520,508 C490,560 485,640 505,712 M548,523 C518,575 513,655 533,727 M576,538 C546,590 541,670 561,742 M604,553 C574,605 569,685 589,757 M632,568 C602,620 597,700 617,772 M660,583 C630,635 625,715 645,787"/>
<ellipse class="m" cx="715" cy="695" rx="58" ry="88" transform="rotate(22 715 695)"/>
<ellipse class="n" cx="718" cy="690" rx="40" ry="68" transform="rotate(22 718 690)"/>
<ellipse class="n" cx="716" cy="692" rx="48" ry="78" transform="rotate(22 716 692)"/>
</g>
<!-- T16 part6 left origin 760,1960 z 2.6117 -->
<g transform="translate(760,1960) scale(0.38289)">
<path class="k" d="M560.0,325.0 C541.7,321.7 488.3,309.5 450.0,305.0 C411.7,300.5 371.7,299.3 330.0,298.0 C288.3,296.7 231.7,295.0 200.0,297.0 C168.3,299.0 156.7,302.8 140.0,310.0 C123.3,317.2 110.8,327.5 100.0,340.0 C89.2,352.5 80.0,370.0 75.0,385.0 C70.0,400.0 69.2,410.8 70.0,430.0 C70.8,449.2 73.3,475.0 80.0,500.0 C86.7,525.0 96.7,552.5 110.0,580.0 C123.3,607.5 140.0,634.2 160.0,665.0 C180.0,695.8 201.7,728.3 230.0,765.0 C258.3,801.7 293.3,845.0 330.0,885.0 C366.7,925.0 410.0,967.5 450.0,1005.0 C490.0,1042.5 530.0,1077.3 570.0,1110.0 C610.0,1142.7 670.0,1185.8 690.0,1201.0"/>
<path class="k" d="M560,325 L630,80 C650,45 680,25 715,22 L735,25 L830,75 L850,100 L875,235 L900,215 L960,180 C970,172 985,172 1000,195 L1030,195 L1160,265 L1175,290 L1225,545"/>
<path class="n" d="M655,345 L710,160 C730,110 770,80 800,72 L830,75 M785,160 L830,185 M875,235 L895,360 L895,410 L920,290 C935,245 960,210 1000,198 M1010,455 L1045,330 C1060,290 1100,265 1140,260 L1160,265 M1115,350 L1165,380"/>
<ellipse class="n" cx="775" cy="158" rx="19" ry="26" transform="rotate(20 775 158)"/>
<ellipse class="n" cx="1105" cy="345" rx="21" ry="26" transform="rotate(20 1105 345)"/>
<path class="n" d="M880,240 C895,260 910,280 905,300 L890,310 M900,215 L925,255 M915,205 L938,245 M940,190 L955,230 M960,180 L975,215"/>
<path class="n" d="M560,328 L660,350 L890,410 L1010,455 L1225,548"/>
<path class="n" d="M335.0,375.0 C320.8,373.3 277.5,366.2 250.0,365.0 C222.5,363.8 188.3,364.7 170.0,368.0 C151.7,371.3 148.0,378.0 140.0,385.0 C132.0,392.0 125.0,400.8 122.0,410.0 C119.0,419.2 120.7,428.3 122.0,440.0 C123.3,451.7 125.3,460.0 130.0,480.0 C134.7,500.0 138.3,531.7 150.0,560.0 C161.7,588.3 178.3,618.3 200.0,650.0 C221.7,681.7 250.0,713.3 280.0,750.0 C310.0,786.7 343.3,830.0 380.0,870.0 C416.7,910.0 456.7,951.7 500.0,990.0 C543.3,1028.3 593.3,1064.8 640.0,1100.0 C686.7,1135.2 756.7,1184.2 780.0,1201.0"/>
<path class="n" d="M205.0,372.0 C205.0,383.3 203.3,415.3 205.0,440.0 C206.7,464.7 207.5,493.3 215.0,520.0 C222.5,546.7 232.5,571.7 250.0,600.0 C267.5,628.3 298.3,663.3 320.0,690.0 C341.7,716.7 361.7,741.7 380.0,760.0 C398.3,778.3 415.0,790.0 430.0,800.0 C445.0,810.0 455.0,814.5 470.0,820.0 C485.0,825.5 503.3,830.8 520.0,833.0 C536.7,835.2 555.8,833.8 570.0,833.0 C584.2,832.2 599.2,828.8 605.0,828.0"/>
<path class="n" d="M335,375 L500,395 C560,400 600,410 620,425 C670,490 695,560 695,620 C690,700 670,770 625,815 M485,440 L580,425"/>
<path class="n" d="M335,375 L500,395 L700,440 L900,500 L1100,580 L1160,607"/>
<path class="m" d="M250,420 C255,405 275,400 300,402 L340,410 C400,430 450,450 470,470 L470,810 C440,800 400,770 360,720 C310,650 265,560 250,480 Z"/>
<path class="n" d="M298,410 L300,440 C310,500 350,580 430,690 M340,412 C390,430 425,450 435,470"/>
<path class="m" d="M435,470 L435,745 L418,732"/>
<path class="n" d="M630,840 L800,980 L1000,1110 L1140,1201"/>
</g>
<!-- T17 part6 right origin 1160,2140 z 2.6117 -->
<g transform="translate(1160,2140) scale(0.38289)">
<path class="k" d="M165,0 L178,72 L300,128 L420,185 L560,262 L680,328 L757,372 L775,315 C790,275 830,245 870,238 L985,295 L1020,465 L1030,430 C1050,400 1090,378 1130,380 L1235,440 L1250,470 L1280,600 C1290,650 1285,700 1265,750 L1235,795 L1232,860 C1225,920 1200,980 1160,1040"/>
<path class="n" d="M845,420 L855,370 C870,320 910,290 950,285 L985,295 M930,370 L958,385 M1090,580 L1105,525 C1120,475 1160,440 1200,432 L1235,440 M1185,515 L1290,575 M1340,605 L1360,615 M1390,633 L1510,705 M1010,530 L1020,465"/>
<ellipse class="n" cx="918" cy="368" rx="19" ry="25" transform="rotate(20 918 368)"/>
<ellipse class="n" cx="1170" cy="513" rx="19" ry="25" transform="rotate(20 1170 513)"/>
<path class="n" d="M0,85 L250,195 L500,330 L757,480 L900,570 L960,610 C1000,640 1010,680 995,705 C960,740 800,755 630,762"/>
<path class="n" d="M757,372 L845,420 L1010,530 L1090,580 C1140,620 1180,660 1200,700 C1220,740 1228,770 1232,800"/>
<path class="n" d="M610,595 C700,620 850,670 935,688 M1000,640 C1060,680 1090,720 1080,750 C1060,790 980,805 880,805 M805,810 L625,812"/>
<path class="n" d="M575,600 L610,590 M575,600 C560,700 550,850 555,950 C560,1020 575,1080 590,1105 M580,610 C600,660 615,720 620,790 C625,880 615,1000 600,1090 L590,1105"/>
<path class="n" d="M575,690 C590,740 600,800 598,860 C596,930 590,990 588,1025 C575,980 565,900 565,840 C565,780 570,730 575,690 Z"/>
<path class="n" d="M590,1105 L640,1125 L700,1160 L720,1165 L700,1180 M720,1165 C740,1175 760,1190 770,1201"/>
</g>
<!-- T18 part6 bottom + part3 origin 900,2380 z 1.95875 -->
<g transform="translate(900,2380) scale(0.51053)">
<path class="k" d="M243.0,78.0 C269.2,93.3 340.5,134.7 400.0,170.0 C459.5,205.3 533.3,253.3 600.0,290.0 C666.7,326.7 743.3,361.5 800.0,390.0 C856.7,418.5 901.0,443.2 940.0,461.0 C979.0,478.8 1009.0,488.5 1034.0,497.0 C1059.0,505.5 1074.3,508.8 1090.0,512.0 C1105.7,515.2 1115.5,516.3 1128.0,516.0 C1140.5,515.7 1152.5,513.8 1165.0,510.0 C1177.5,506.2 1190.5,499.5 1203.0,493.0 C1215.5,486.5 1227.5,481.5 1240.0,471.0 C1252.5,460.5 1265.5,443.8 1278.0,430.0 C1290.5,416.2 1298.2,408.0 1315.0,388.0 C1331.8,368.0 1368.3,323.0 1379.0,310.0"/>
<path class="n" d="M311.0,78.0 C325.8,85.8 351.8,98.0 400.0,125.0 C448.2,152.0 533.3,203.3 600.0,240.0 C666.7,276.7 741.7,316.7 800.0,345.0 C858.3,373.3 910.0,393.3 950.0,410.0 C990.0,426.7 1020.0,438.0 1040.0,445.0 C1060.0,452.0 1061.7,452.0 1070.0,452.0 C1078.3,452.0 1087.5,449.5 1090.0,445.0 C1092.5,440.5 1090.0,431.7 1085.0,425.0 C1080.0,418.3 1072.5,412.5 1060.0,405.0 C1047.5,397.5 1026.7,387.5 1010.0,380.0 C993.3,372.5 970.8,365.8 960.0,360.0 C949.2,354.2 947.5,347.5 945.0,345.0"/>
<path class="n" d="M580,78 L800,200 L895,248"/>
<path class="k" d="M315,345 C325,380 340,420 345,450 C350,520 350,600 345,650 L330,715 L322,715 C310,670 300,620 298,590 C295,520 298,430 305,380 Z"/>
<path class="k" d="M315,405 C325,440 330,500 330,560 C330,610 328,640 325,665 C315,640 308,600 306,560 C304,500 308,440 315,405 Z"/>
</g>
<!-- T19 part2 + part1 left origin 100,2260 z 1.95875 -->
<g transform="translate(100,2260) scale(0.51053)">
<path class="k" d="M742,130 C740,105 755,92 780,90 C830,92 880,110 920,140 C940,155 948,170 948,190 L948,400 C948,420 935,432 915,425 C880,400 840,350 800,290 C765,230 745,180 742,130 Z"/>
<path class="k" d="M775,150 C772,130 780,118 800,118 C840,122 880,140 905,160 C915,170 918,180 918,195 L918,370 C918,382 910,385 900,378 C870,345 830,290 800,235 C782,200 775,175 775,150 Z"/>
<path class="k" d="M120,480 L100,485 L78,470 L80,400 L100,395 L100,345 L110,335 L185,345 L213,333 L290,430 L340,450 C365,465 380,485 382,510 L378,550"/>
<path class="n" d="M185,345 L185,412 M185,355 L230,415 M100,400 L180,412 M118,440 C140,420 180,412 230,415 C270,420 320,440 345,460"/>
</g>
<!-- V21 part1 curves origin 100,2260 z 1.7411 -->
<g transform="translate(100,2260) scale(0.57435)">
<path class="k" d="M104.0,427.0 C104.3,435.8 102.5,459.5 106.0,480.0 C109.5,500.5 116.0,526.7 125.0,550.0 C134.0,573.3 145.8,595.0 160.0,620.0 C174.2,645.0 190.0,673.3 210.0,700.0 C230.0,726.7 253.3,753.3 280.0,780.0 C306.7,806.7 333.3,832.5 370.0,860.0 C406.7,887.5 453.3,918.3 500.0,945.0 C546.7,971.7 600.0,997.5 650.0,1020.0 C700.0,1042.5 750.0,1061.7 800.0,1080.0 C850.0,1098.3 899.2,1113.8 950.0,1130.0 C1000.8,1146.2 1079.2,1169.2 1105.0,1177.0"/>
<path class="k" d="M340.0,453.0 C339.5,459.2 332.8,477.2 337.0,490.0 C341.2,502.8 351.2,515.0 365.0,530.0 C378.8,545.0 397.5,564.2 420.0,580.0 C442.5,595.8 466.7,608.3 500.0,625.0 C533.3,641.7 576.7,661.7 620.0,680.0 C663.3,698.3 716.7,718.7 760.0,735.0 C803.3,751.3 852.8,768.0 880.0,778.0 C907.2,788.0 915.8,792.2 923.0,795.0"/>
<path class="n" d="M330.0,450.0 C327.5,453.3 317.0,461.7 315.0,470.0 C313.0,478.3 313.0,488.3 318.0,500.0 C323.0,511.7 331.3,525.0 345.0,540.0 C358.7,555.0 377.5,573.3 400.0,590.0 C422.5,606.7 446.7,621.7 480.0,640.0 C513.3,658.3 555.0,680.0 600.0,700.0 C645.0,720.0 700.0,741.3 750.0,760.0 C800.0,778.7 865.0,801.7 900.0,812.0 C935.0,822.3 945.8,821.5 960.0,822.0 C974.2,822.5 977.5,818.7 985.0,815.0 C992.5,811.3 1001.7,802.5 1005.0,800.0"/>
<path class="n" d="M300.0,415.0 C295.8,420.8 280.3,437.5 275.0,450.0 C269.7,462.5 266.3,473.3 268.0,490.0 C269.7,506.7 274.7,529.2 285.0,550.0 C295.3,570.8 310.8,593.3 330.0,615.0 C349.2,636.7 375.0,660.8 400.0,680.0 C425.0,699.2 446.7,711.7 480.0,730.0 C513.3,748.3 555.0,770.0 600.0,790.0 C645.0,810.0 700.0,831.7 750.0,850.0 C800.0,868.3 858.3,886.7 900.0,900.0 C941.7,913.3 970.0,923.0 1000.0,930.0 C1030.0,937.0 1066.7,940.0 1080.0,942.0"/>
</g>
<!-- T20 part1 origin 140,2600 z 1.95875 -->
<g transform="translate(140,2600) scale(0.51053)">
<path class="k" d="M1165,658 L1178,650 L1188,600 L1192,545 L1195,420 C1192,360 1180,300 1162,268 C1155,255 1145,250 1130,245 L1060,232 C1040,228 1030,230 1020,235 L1005,240 C990,240 975,235 960,228"/>
<path class="n" d="M1048,420 L1100,430 L1140,445 L1165,465 L1172,485 M1165,275 L1180,340 L1188,420 L1190,500 L1188,545"/>
<path class="k" d="M1180,345 L1300,275 C1315,270 1335,272 1345,290 L1347,335 L1240,395 M1232,400 L1300,395 C1320,385 1340,390 1347,405 L1347,455 L1195,540 M1232,400 L1232,478"/>
<path class="n" d="M1195,385 L1340,300 M1232,430 L1300,400 M1232,478 L1345,455"/>
<ellipse class="n" cx="1318" cy="292" rx="16" ry="10"/>
<ellipse class="n" cx="1318" cy="408" rx="16" ry="10"/>
</g>
<!-- TEXT -->
<g font-size="52">
<text x="1390.1" y="495.8">6</text>
<text x="1286.8" y="1172.1">7</text>
<text x="1249.7" y="1253.1">5</text>
<text x="1685.4" y="1180.5">20</text>
<text x="1490.5" y="1357.2">8</text>
<text x="1580.8" y="1354.5">9</text>
<text x="1537.3" y="1439.2">7</text>
<text x="1261.1" y="1388.9">7</text>
<text x="1289.4" y="1486.7">9</text>
<text x="1421.2" y="1487.9">8</text>
<text x="1613.1" y="1690.4">0</text>
<text x="441.9" y="1517.6">3</text>
<text x="802.5" y="1762.9">4</text>
<text x="1144.7" y="1733.0">2</text>
<text x="1537.0" y="1935.9">4</text>
<text x="1629.1" y="1997.7">5</text>
<text x="1159.6" y="2727.7">3</text>
<text x="1461.7" y="2780.2">6</text>
<text x="362.1" y="2345.2">2</text>
<text x="1819.2" y="2348.0">4</text>
</g>
<path fill="#000" d="M1378.7,495.9 l-3.9,0 l0,-29.6 l-3.8,4.1 l-5.6,2.5 l0,-3.75 l5.6,-2.85 l4.6,-6.4 l3.1,0 Z M1278.7,1172.2 l-3.9,0 l0,-29.6 l-3.8,4.1 l-5.6,2.5 l0,-3.75 l5.6,-2.85 l4.6,-6.4 l3.1,0 Z M1240.7,1253.5 l-3.9,0 l0,-29.6 l-3.8,4.1 l-5.6,2.5 l0,-3.75 l5.6,-2.85 l4.6,-6.4 l3.1,0 Z M1480.4,1357.3 l-3.9,0 l0,-29.6 l-3.8,4.1 l-5.6,2.5 l0,-3.75 l5.6,-2.85 l4.6,-6.4 l3.1,0 Z M1570.3,1354.7 l-3.9,0 l0,-29.6 l-3.8,4.1 l-5.6,2.5 l0,-3.75 l5.6,-2.85 l4.6,-6.4 l3.1,0 Z M1528.7,1439.3 l-3.9,0 l0,-29.6 l-3.8,4.1 l-5.6,2.5 l0,-3.75 l5.6,-2.85 l4.6,-6.4 l3.1,0 Z M1786.5,1320.8 l-3.9,0 l0,-29.6 l-3.8,4.1 l-5.6,2.5 l0,-3.75 l5.6,-2.85 l4.6,-6.4 l3.1,0 Z M1815.6,1320.8 l-3.9,0 l0,-29.6 l-3.8,4.1 l-5.6,2.5 l0,-3.75 l5.6,-2.85 l4.6,-6.4 l3.1,0 Z M1602.8,1690.5 l-3.9,0 l0,-29.6 l-3.8,4.1 l-5.6,2.5 l0,-3.75 l5.6,-2.85 l4.6,-6.4 l3.1,0 Z M432.3,1517.8 l-3.9,0 l0,-29.6 l-3.8,4.1 l-5.6,2.5 l0,-3.75 l5.6,-2.85 l4.6,-6.4 l3.1,0 Z M1133.3,1732.9 l-3.9,0 l0,-29.6 l-3.8,4.1 l-5.6,2.5 l0,-3.75 l5.6,-2.85 l4.6,-6.4 l3.1,0 Z M1527.7,1936.1 l-3.9,0 l0,-29.6 l-3.8,4.1 l-5.6,2.5 l0,-3.75 l5.6,-2.85 l4.6,-6.4 l3.1,0 Z M394.2,2925.1 l-3.9,0 l0,-29.6 l-3.8,4.1 l-5.6,2.5 l0,-3.75 l5.6,-2.85 l4.6,-6.4 l3.1,0 Z"/>
<!-- LEADERS -->
<path class="l" d="M1388.2,507.9 L1388.2,604.0 M1305.0,1495.9 L1305.0,1557.0 M1432.3,1495.9 L1432.3,1572.7 M1506.0,1677.7 L1584.2,1677.7 M441.6,1526.2 L441.6,1583.8 M816.8,1769.8 L816.8,1864.2 M1139.5,1743.2 L1142.0,1790.2 M1538.7,1949.0 L1538.7,2026.5 M1641.2,2007.6 L1641.2,2073.0 M1076.1,2709.3 L1155.3,2709.3 M1476.9,2642.9 L1476.9,2732.3 M395.1,2327.4 L478.8,2327.4 M388.6,2791.4 L388.6,2878.2 M1832.6,2356.6 L1832.6,2451.0"/>
<!-- DASHDOT -->
<path class="d" d="M1126.4,788.4 L363.3,1228.6"/>
<path class="d" d="M363.3,1228.6 L1456.0,1861.7"/>
<path class="d" d="M1456.0,1861.7 L1154.8,2030.1"/>
<path class="d" d="M897.0,1925.5 L999.3,1986.8"/>
<path class="d" d="M280.8,1681.2 L964.8,2073.0"/>
<path class="n" d="M903.6,2164.1 L821,2211"/>
<path class="d" d="M806,2220.4 L590.1,2341.7"/>
<path class="d" d="M541.6,2374.9 L299.1,2511.2"/>
<path class="d" d="M1378.0,2467.0 L1086,2635.2"/>
<path class="d" style="stroke-dashoffset:-62" d="M1050.6,2655.6 L836.9,2778.7"/>
<path class="d" d="M997.6,1723.8 L997.6,1861.7"/>
<path class="d" d="M1078.2,1910.2 L1078.2,2031.0"/>
<path class="d" d="M1099.7,1924.5 L1099.7,2045.0"/>
<path class="d" d="M1099.7,1924.5 L1264.6,2017.4"/>
<path class="d" d="M1264.6,1877.0 L1264.6,2017.4"/>
<path class="d" d="M1452.7,2009.4 L1452.7,2146.2"/>
<path class="d" d="M1452.7,2146.2 L1526.0,2187.6"/>
<path class="d" d="M1526.0,2187.6 L1526.0,2287.4"/>
<path class="d" d="M1549.0,2203.0 L1549.0,2318.0"/>
<path class="d" d="M1549.0,2203.0 L1691.3,2283.1"/>
<path class="d" d="M1691.3,2146.2 L1691.3,2283.1"/>
<path class="d" style="stroke-dasharray:25 11 60 11 12 11 60 11 12 11 60 11 12 11 60 11 12 11 60 11 12 11 60 11" d="M1171.3,955.3 L1603.5,1149.3"/>
<path class="n" d="M1603.5,1149.3 L1565.5,1161.3"/>
<!-- T22 bolt4 right origin 1660,2280 z 3.9175 -->
<g transform="translate(1660,2280) scale(0.25526)">
<path class="k" d="M905,805 L355,495 C330,490 310,505 305,530 L305,570 L870,890"/>
<ellipse class="k" cx="965" cy="888" rx="72" ry="108" transform="rotate(25 965 888)"/>
<path class="k" d="M870,885 C855,920 860,950 875,965 L915,990"/>
<path class="n" d="M905,960 C895,920 905,870 935,835 C955,815 975,805 995,805"/>
</g>
<!-- T23 lower cable origin 180,1860 z 3.134 -->
<g transform="translate(180,1860) scale(0.31908)">
<path class="k" d="M414.0,-42.0 C405.0,-35.0 382.3,-17.0 360.0,0.0 C337.7,17.0 306.7,35.0 280.0,60.0 C253.3,85.0 222.5,120.0 200.0,150.0 C177.5,180.0 158.7,210.0 145.0,240.0 C131.3,270.0 123.0,303.3 118.0,330.0 C113.0,356.7 113.0,375.0 115.0,400.0 C117.0,425.0 120.8,453.3 130.0,480.0 C139.2,506.7 153.3,535.8 170.0,560.0 C186.7,584.2 208.3,608.3 230.0,625.0 C251.7,641.7 271.7,650.5 300.0,660.0 C328.3,669.5 363.3,678.3 400.0,682.0 C436.7,685.7 478.3,684.8 520.0,682.0 C561.7,679.2 603.3,672.0 650.0,665.0 C696.7,658.0 750.0,650.8 800.0,640.0 C850.0,629.2 901.7,611.7 950.0,600.0 C998.3,588.3 1066.7,575.0 1090.0,570.0"/>
<path class="k" d="M463.0,-17.0 C460.8,-15.0 468.8,-19.5 450.0,-5.0 C431.2,9.5 381.7,42.5 350.0,70.0 C318.3,97.5 285.0,130.0 260.0,160.0 C235.0,190.0 215.3,221.7 200.0,250.0 C184.7,278.3 173.8,305.0 168.0,330.0 C162.2,355.0 163.0,376.7 165.0,400.0 C167.0,423.3 171.7,446.7 180.0,470.0 C188.3,493.3 200.0,519.2 215.0,540.0 C230.0,560.8 249.2,580.8 270.0,595.0 C290.8,609.2 313.3,617.8 340.0,625.0 C366.7,632.2 396.7,636.3 430.0,638.0 C463.3,639.7 498.3,639.3 540.0,635.0 C581.7,630.7 633.3,619.8 680.0,612.0 C726.7,604.2 775.0,597.5 820.0,588.0 C865.0,578.5 907.5,564.7 950.0,555.0 C992.5,545.3 1054.2,534.2 1075.0,530.0"/>
<path class="k" d="M1072,485 L1338,410 L1378,545 L1108,622 Z"/>
</g>
<!-- T24 key20 origin 1620,900 z 5.2233 -->
<g transform="translate(1620,900) scale(0.19145)">
<path class="k" d="M225,485 L300,400 L420,330 L510,288 L570,322 C595,400 605,500 600,655 L585,690 L500,710 L380,712 L320,695 L265,665"/>
<path class="n" d="M270,520 C300,450 400,370 520,330 L545,310 M265,665 C245,620 250,560 270,520"/>
<path class="n" d="M345,575 C360,540 420,480 500,450 C515,480 515,560 510,610 C450,620 380,615 345,575 Z"/>
<path class="k" d="M225,485 L195,490 C170,505 165,520 165,545 L168,670 C175,690 195,690 215,685 L265,665"/>
<path class="m" d="M270,495 L215,510 L195,530 L190,660 L210,660 L250,640 M180,530 L180,670"/>
<path class="k" d="M595,385 L740,355 L1215,178 L1245,180 L1250,235 L1235,245 L1252,250 L1250,320 L1235,335 L780,495 L775,530 L650,555 L640,535 L770,505 M605,590 L650,575"/>
<path class="k" d="M645,543 L772,515"/>
<path class="n" d="M600,410 L750,370 L1225,200 M1225,200 L1225,235 L1090,275 M1225,260 L1225,320"/>
<path class="n" d="M770,410 C790,390 830,395 850,380 C880,360 920,370 950,350 C980,330 1000,330 1020,305 L1050,290 L1100,270 M770,430 C800,440 840,420 870,410 C900,390 940,385 970,370 C1000,350 1040,330 1070,315 L1130,280 L1220,265 M770,410 C760,420 760,430 770,430 M800,425 C830,410 850,400 880,395 C910,380 930,380 960,360"/>
</g>
<!-- T25 part12 origin 1010,1720 z 6.027 -->
<g transform="translate(1010,1720) scale(0.16592)">
<path class="k" d="M230,200 C300,140 380,90 450,85 C510,85 560,130 575,200 C580,240 570,280 555,310"/>
<path class="k" d="M230,200 C170,260 130,340 130,420 C130,480 150,510 175,525 L1040,1015 C1070,1050 1110,1065 1150,1055 L1300,970 C1380,910 1440,820 1450,720 C1450,660 1430,620 1380,595 C1340,585 1300,590 1270,605 L1170,660 L555,310"/>
<path class="n" d="M290,208 L1160,710 M335,185 L440,120 M335,185 L545,300 M1160,710 L1320,620 M1160,710 C1090,780 1050,860 1045,920 C1040,960 1042,990 1045,1010"/>
<ellipse class="n" cx="1290" cy="805" rx="40" ry="60" transform="rotate(30 1290 805)"/>
<path class="n" d="M1295,815 L1535,945 M-80,20 L225,190"/>
</g>
<!-- T26 bolt4 left origin 700,1790 z 7.1227 -->
<g transform="translate(700,1790) scale(0.14040)">
<path class="k" d="M110,320 C120,240 190,160 260,135 L320,130 L430,185 L450,215 L455,295 L440,330 L1390,850 L1395,930 L1390,965 L1340,1020 L1280,1020 L345,480 L290,515 L230,520 C180,515 130,480 110,430 Z"/>
<path class="n" d="M175,450 L180,370 C200,280 270,200 330,180 L370,195 L410,230 L415,290 M140,330 C150,260 220,180 290,165 L325,175 M410,295 L360,275 L320,285 C280,310 255,360 255,400 L270,425 L315,445 L310,465 M1330,865 C1290,890 1260,940 1265,985 M1330,940 L1355,945"/>
</g>
<!-- T27 key 18/19 origin 1380,1140 z 6.529 -->
<g transform="translate(1380,1140) scale(0.15316)">
<path class="w" d="M90,450 L400,350 L520,330 L1090,110 L1135,115 L1140,150 L1120,195 L1145,210 L1145,270 L1120,300 L545,515 L540,545 L500,575 L370,610 L270,590 L250,630 L180,680 L90,675 L88,580 L115,565 L88,550 Z"/>
<path fill="#000" stroke="#000" stroke-width="2" vector-effect="non-scaling-stroke" d="M515,345 L1095,125 L1130,135 L1125,185 L1000,235 L900,290 L780,365 L690,395 L620,440 L530,455 L510,420 Z"/>
<path class="k" d="M120,470 L400,385 L510,395 M120,515 L262,492 L270,585 L125,605 M370,550 L545,520 M365,555 L370,610 M125,640 L250,610"/>
<path class="n" d="M620,440 L690,400 L760,390 L800,360 L900,310 L1000,250 L1090,240 L1115,245"/>
<path class="k" d="M905,560 C920,520 950,480 990,455 L1230,330 C1280,315 1330,320 1380,345 L1450,375 C1470,400 1470,440 1470,600 L1460,740 C1440,780 1400,820 1350,850 L1280,880 L1120,885 L990,875 C940,850 910,810 900,760 Z"/>
<path class="n" d="M985,840 C970,780 965,700 975,620 C990,560 1010,530 1040,500 L1260,370 L1320,355 M1000,840 C985,780 985,700 990,620 C1000,570 1020,540 1050,510 L1270,375"/>
<path class="k" d="M1015,600 C1020,570 1040,540 1060,535 L1110,535 L1112,740 C1100,790 1070,820 1040,835 L1020,830 L1012,790 Z"/>
<path class="n" d="M1045,600 L1040,750 M1060,590 L1085,560 L1085,740 L1050,790"/>
</g>
</svg>
</body></html>
